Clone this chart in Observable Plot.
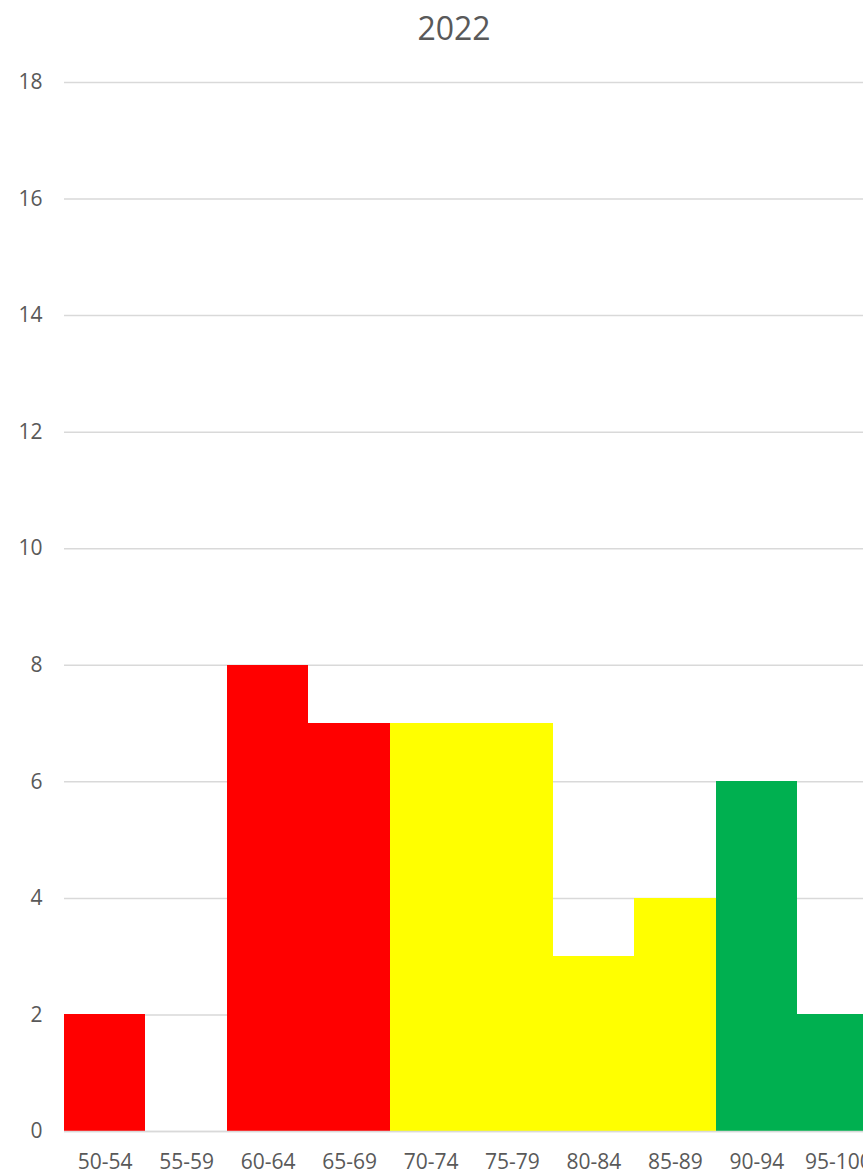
<!DOCTYPE html>
<html>
<head>
<meta charset="utf-8">
<script src="https://cdn.jsdelivr.net/npm/d3@7"></script>
<script src="https://cdn.jsdelivr.net/npm/@observablehq/plot@0.6"></script>
<style>
  html, body { margin: 0; padding: 0; background: #fff; overflow: hidden; }
  #wrap { width: 908px; font-family: "Open Sans", sans-serif; }
  #title { height: 56px; line-height: 56px; text-align: center; font-size: 32px; color: #595959; }
  svg { display: block; }
</style>
</head>
<body>
<div id="wrap">
  <div id="title">2022</div>
  <div id="chart"></div>
</div>
<script>
const bins = ["50-54", "55-59", "60-64", "65-69", "70-74", "75-79", "80-84", "85-89", "90-94", "95-100"];
const counts = [2, 0, 8, 7, 7, 7, 3, 4, 6, 2];
const bands = ["low", "low", "low", "low", "mid", "mid", "mid", "mid", "high", "high"];
const yTicks = [0, 2, 4, 6, 8, 10, 12, 14, 16, 18];

const data = bins.map((b, i) => ({bin: b, count: counts[i], band: bands[i]}));

const chart = Plot.plot({
  width: 908,
  height: 1119,
  marginLeft: 64,
  marginRight: 29.5,
  marginTop: 26,
  marginBottom: 44,
  style: {fontFamily: "Open Sans, sans-serif", fontSize: "21px", color: "#595959", background: "#fff"},
  x: {domain: bins, padding: 0, round: false, label: null},
  y: {domain: [0, 18], label: null},
  color: {domain: ["low", "mid", "high"], range: ["#FF0000", "#FFFF00", "#00B050"]},
  marks: [
    Plot.ruleY(yTicks, {stroke: "#d9d9d9", strokeWidth: 1.5}),
    Plot.barY(data, {x: "bin", y: "count", fill: "band", inset: 0, shapeRendering: "crispEdges"}),
    Plot.ruleY([0], {stroke: "#d9d9d9", strokeWidth: 1.5}),
    Plot.axisY({ticks: yTicks, tickSize: 0, tickPadding: 22, label: null, fill: "#595959"}),
    Plot.axisX({tickSize: 0, tickPadding: 23, label: null, fill: "#595959"})
  ]
});
document.getElementById("chart").appendChild(chart);
</script>
</body>
</html>
